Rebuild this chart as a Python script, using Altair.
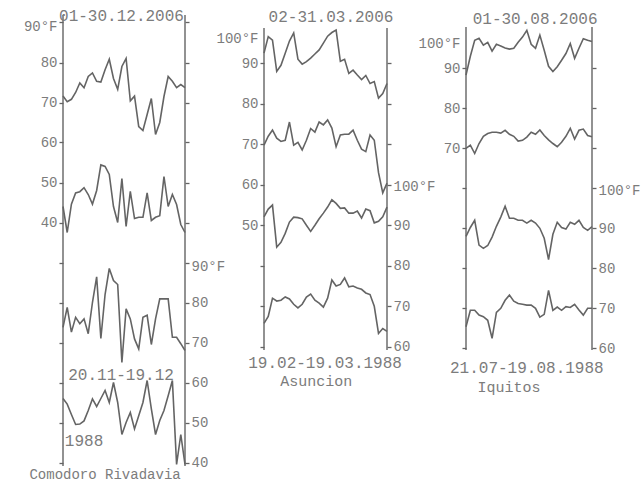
import altair as alt
import pandas as pd

days = list(range(1, 31))

# Comodoro Rivadavia
cr_2006_max = [71.6, 70.2, 70.8, 72.5, 74.9, 73.7, 76.5, 77.4, 75.3, 75.1, 78.2, 80.8, 76.0, 73.3, 79.0,
               81.0, 70.4, 71.6, 64.0, 63.0, 67.0, 71.0, 62.0, 65.0, 71.5, 76.5, 75.3, 73.7, 74.5, 73.7]
cr_2006_min = [44.0, 37.5, 44.6, 47.4, 47.7, 48.7, 47.0, 44.6, 48.0, 54.4, 54.0, 52.0, 44.0, 40.0, 51.0,
               39.0, 47.8, 41.0, 41.3, 41.3, 47.4, 40.5, 41.3, 41.7, 51.5, 44.0, 47.0, 44.5, 39.5, 37.5]
cr_1988_max = [73.8, 78.8, 72.6, 76.3, 74.7, 75.9, 72.2, 80.0, 86.4, 71.0, 82.0, 88.5, 85.5, 84.5, 65.0,
               78.4, 75.9, 70.9, 68.4, 76.3, 76.8, 69.5, 75.9, 80.9, 80.9, 80.9, 71.3, 71.3, 69.7, 68.0]
cr_1988_min = [56.0, 54.6, 52.0, 49.5, 49.6, 50.4, 53.0, 55.9, 54.0, 56.0, 58.0, 55.0, 60.0, 55.0, 47.0,
               50.0, 52.5, 48.4, 51.7, 55.0, 60.5, 53.4, 47.0, 50.5, 53.0, 56.7, 60.5, 39.5, 47.0, 39.5]

# Asuncion
as_2006_max = [92.5, 96.6, 95.7, 88.0, 89.5, 92.5, 95.5, 97.5, 91.0, 89.8, 90.4, 91.3, 92.3, 93.3, 95.0,
               96.7, 97.6, 98.2, 90.5, 91.0, 87.5, 88.3, 87.1, 86.0, 87.0, 85.0, 85.5, 81.4, 82.5, 85.0]
as_2006_min = [69.8, 72.0, 73.5, 71.5, 70.7, 71.0, 75.5, 69.8, 70.5, 68.6, 71.0, 73.9, 73.0, 75.5, 74.8,
               76.0, 74.0, 69.4, 72.3, 72.5, 72.5, 73.5, 71.0, 68.8, 68.2, 72.3, 71.0, 63.0, 58.0, 60.4]
as_1988_max = [92.1, 94.0, 95.0, 84.6, 85.8, 88.0, 90.8, 92.0, 91.9, 91.6, 90.0, 88.5, 90.0, 91.6, 93.0,
               94.5, 96.3, 95.4, 94.2, 94.3, 93.0, 93.0, 93.5, 91.8, 94.0, 93.6, 90.6, 91.0, 92.1, 94.5]
as_1988_min = [65.8, 67.5, 72.0, 71.3, 71.5, 72.3, 71.8, 70.5, 69.6, 70.5, 72.3, 73.0, 71.5, 70.8, 69.8,
               72.0, 76.5, 75.0, 75.4, 77.0, 74.8, 75.0, 74.5, 74.2, 73.3, 72.9, 70.0, 63.3, 64.5, 63.8]

# Iquitos
iq_2006_max = [88.3, 93.0, 97.0, 97.5, 95.8, 96.5, 94.3, 96.0, 95.6, 95.1, 94.8, 95.0, 96.5, 97.8, 99.5,
               96.0, 95.0, 98.3, 94.5, 90.5, 89.2, 90.4, 92.0, 93.7, 96.2, 92.5, 95.0, 97.4, 97.0, 96.7]
iq_2006_min = [70.0, 70.8, 68.7, 71.2, 73.0, 73.7, 74.0, 74.0, 73.8, 74.5, 73.5, 73.0, 71.8, 72.0, 72.8,
               74.0, 73.5, 74.6, 73.2, 72.1, 71.2, 70.4, 71.5, 73.0, 75.0, 72.3, 74.5, 74.8, 73.2, 72.9]
iq_1988_max = [88.0, 90.2, 92.0, 85.8, 85.0, 85.7, 87.8, 90.5, 92.8, 95.5, 92.5, 92.5, 92.0, 92.0, 91.3,
               92.0, 91.3, 90.0, 87.5, 82.2, 88.5, 91.5, 90.2, 89.8, 91.5, 91.0, 92.0, 90.2, 89.5, 90.4]
iq_1988_min = [65.4, 69.5, 69.5, 68.3, 67.9, 67.0, 62.5, 69.0, 70.0, 72.0, 73.3, 71.8, 71.2, 71.0, 70.8,
               70.8, 70.0, 67.8, 68.5, 74.5, 69.5, 70.3, 69.5, 70.4, 70.2, 71.0, 69.6, 68.3, 70.0, 70.0]

FONT = "Liberation Mono"
INK = "#646464"
TEXT = "#7c7c7c"


def series_frame(items):
    rows = []
    for name, vals, shift in items:
        for d, v in zip(days, vals):
            rows.append({"series": name, "day": d, "temp": v, "plot": v + shift})
    return pd.DataFrame(rows)


def y_axis(orient, values, expr, top_val, top_off, hide_top_tick=False):
    kw = dict(
        orient=orient, values=values, labelExpr=expr, domain=False, grid=False,
        ticks=True, tickSize=4, tickColor=INK, tickWidth=1.3,
        labelFont=FONT, labelFontSize=14, labelColor=TEXT, labelPadding=2,
        labelOverlap=False, labelBound=False, title=None,
        labelOffset={"condition": {"test": f"datum.value == {top_val}", "value": top_off}, "value": 0},
    )
    if hide_top_tick:
        kw["tickOpacity"] = {"condition": {"test": f"datum.value == {top_val}", "value": 0}, "value": 1}
    return alt.Axis(**kw)


def panel(df, domain, ax_top, ax_bot, left_axis, right_axis, texts, width):
    xs = alt.Scale(domain=[1, 30], nice=False, zero=False)
    ys = alt.Scale(domain=domain, nice=False, zero=False)
    lines = alt.Chart(df).mark_line(color=INK, strokeWidth=1.6).encode(
        x=alt.X("day:Q", scale=xs, axis=None),
        y=alt.Y("plot:Q", scale=ys, axis=left_axis),
        detail="series:N",
    )
    frame_df = pd.DataFrame({"day": [1, 30], "top": [ax_top, ax_top], "bottom": [ax_bot, ax_bot]})
    frame = alt.Chart(frame_df).mark_rule(color=INK, strokeWidth=1.4).encode(
        x=alt.X("day:Q", scale=xs, axis=None),
        y=alt.Y("top:Q", scale=ys, axis=right_axis),
        y2="bottom:Q",
    )
    tdf = pd.DataFrame(texts, columns=["text", "day", "val", "size"])
    txt = alt.Chart(tdf).mark_text(font=FONT, color=TEXT, baseline="middle", align="center").encode(
        x=alt.X("day:Q", scale=xs, axis=None),
        y=alt.Y("val:Q", scale=ys, axis=None),
        size=alt.Size("size:Q", scale=None, legend=None),
        text="text:N",
    )
    return alt.layer(lines, frame, txt).resolve_axis(y="independent").properties(width=width, height=486)


# Panel 1: Comodoro Rivadavia (1988 drawn 60 degrees lower)
p1_df = series_frame([("2006 max", cr_2006_max, 0), ("2006 min", cr_2006_min, 0),
                      ("1988 max", cr_1988_max, -60), ("1988 min", cr_1988_min, -60)])
p1_ticks = [90, 80, 70, 60, 50, 40, 30, 20, 10, 0, -10, -20]
p1 = panel(
    p1_df, [-25.875, 95.625], 91.9, -20.9,
    y_axis("left", p1_ticks, "datum.value == 90 ? '90°F' : (datum.value >= 40 ? datum.label : '')", 90, 4),
    y_axis("right", p1_ticks, "datum.value == 30 ? '90°F' : (datum.value < 30 ? format(datum.value + 60, 'd') : '')", 30, 4),
    [("01-30.12.2006", 14.9, 91.6, 16), ("20.11-19.12", 14.8, 1.9, 16), ("1988", 6.0, -14.6, 16),
     ("Comodoro Rivadavia", 11.0, -23.2, 14)],
    122,
)

# Panel 2: Asuncion (1988 drawn 40 degrees lower)
p2_df = series_frame([("2006 max", as_2006_max, 0), ("2006 min", as_2006_min, 0),
                      ("1988 max", as_1988_max, -40), ("1988 min", as_1988_min, -40)])
p23_left = [100, 90, 80, 70, 60, 50, 40, 30, 20]
p23_right = [90, 80, 70, 60, 50, 40, 30, 20]
p2 = panel(
    p2_df, [-14.37, 105.63], 98.7, 19.2,
    y_axis("left", p23_left, "datum.value == 100 ? '100°F' : (datum.value >= 50 ? datum.label : '')", 100, 16, True),
    y_axis("right", p23_right, "datum.value == 60 ? '100°F' : (datum.value < 60 ? format(datum.value + 40, 'd') : '')", 60, 2),
    [("02-31.03.2006", 16.8, 101.4, 16), ("19.02-19.03.1988", 15.4, 16.0, 16), ("Asuncion", 13.3, 11.6, 15)],
    123,
)

# Panel 3: Iquitos (1988 drawn 40 degrees lower)
p3_df = series_frame([("2006 max", iq_2006_max, 0), ("2006 min", iq_2006_min, 0),
                      ("1988 max", iq_1988_max, -40), ("1988 min", iq_1988_min, -40)])
p3 = panel(
    p3_df, [-14.425, 107.075], 100.3, 19.6,
    y_axis("left", p23_left, "datum.value == 100 ? '100°F' : (datum.value >= 70 ? datum.label : '')", 100, 15, True),
    y_axis("right", p23_right, "datum.value == 60 ? '100°F' : (datum.value < 60 ? format(datum.value + 40, 'd') : '')", 60, 2),
    [("01-30.08.2006", 16.9, 102.3, 16), ("21.07-19.08.1988", 15.0, 15.1, 16), ("Iquitos", 10.9, 10.3, 15)],
    126,
)

chart = alt.hconcat(p1, p2, p3, spacing=79, bounds="flush").properties(
    padding={"left": 23, "top": 0, "right": 0, "bottom": 0},
    background="white",
).configure_view(stroke=None)

chart.save("out.html", embed_options={"renderer": "svg", "actions": False})
